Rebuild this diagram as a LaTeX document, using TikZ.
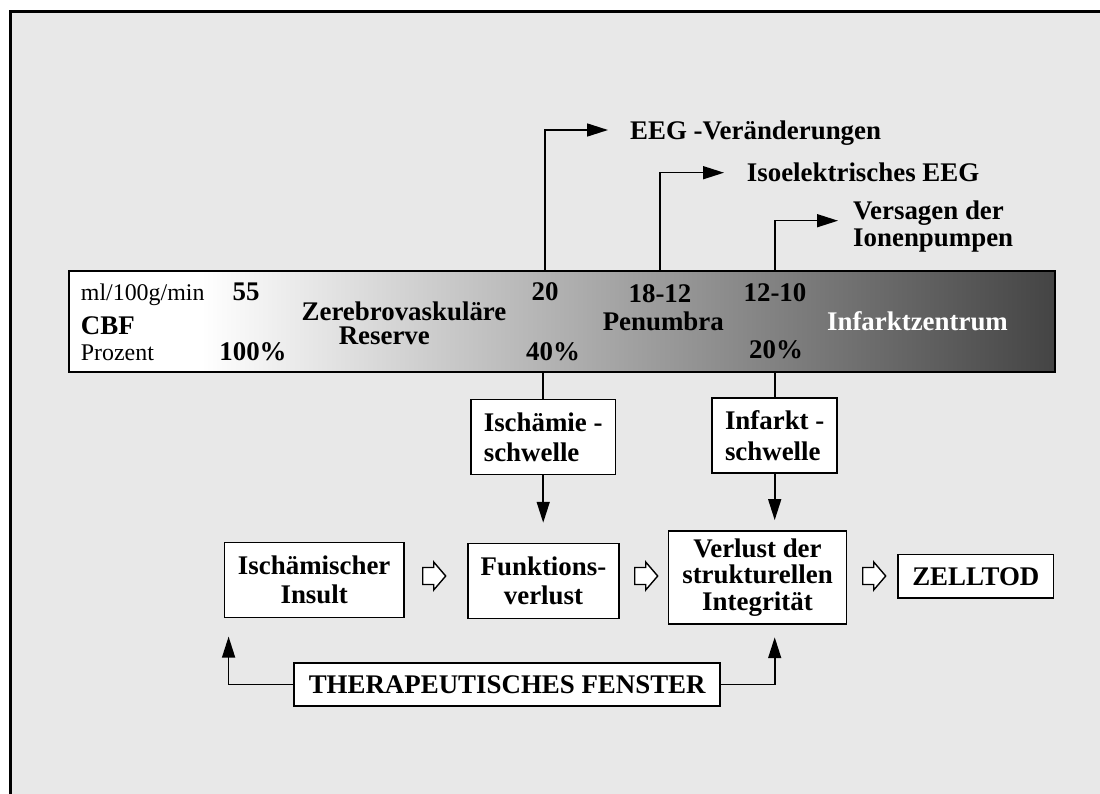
\documentclass[tikz,border=0pt]{standalone}
\usepackage{fontspec}
\setmainfont{Liberation Serif}
\usetikzlibrary{arrows.meta,calc}
\definecolor{bggray}{HTML}{E8E8E8}
\definecolor{barend}{HTML}{444444}
\pgfdeclarehorizontalshading{cbfshade}{100bp}{color(0bp)=(white); color(31.7bp)=(white); color(75bp)=(barend); color(100bp)=(barend)}
\tikzset{
    lbl/.style={inner sep=0pt, font=\fontsize{27pt}{29pt}\selectfont\bfseries},
    unitlbl/.style={inner sep=0pt, anchor=base west, font=\fontsize{24pt}{26pt}\selectfont},
    box/.style={draw, fill=white, line width=1.6pt, inner sep=0pt, align=center, font=\fontsize{27pt}{29pt}\selectfont\bfseries},
    conn/.style={line width=1.6pt},
    arr/.style={conn, -{Triangle[length=21pt,width=13pt]}},
    blockarr/.style={draw, fill=white, line width=1.4pt, line join=miter}
}
\newcommand\openarrow[1]{%
    \draw [blockarr] ($(#1)+(-11.5,-8.5)$) -- ++(11,0) -- ++(0,-5.5) -- ++(12,14) -- ++(-12,14) -- ++(0,-5.5) -- ++(-11,0) -- cycle;}
\begin{document}
\begin{tikzpicture}[x=1bp, y=-1bp]
    \useasboundingbox (0,0) rectangle (1100,794);
    \clip (0,0) rectangle (1100,794);
    \fill [bggray] (10.5,11.5) rectangle (1110,804);
    \draw [line width=3pt] (10.5,804) -- (10.5,11.5) -- (1110,11.5);

    \node [draw, line width=1.6pt, shading=cbfshade, minimum width=989.7pt, minimum height=101.3pt, inner sep=0pt] (bar) at (561.85,321.65) {};
    \node [unitlbl] (unit) at (80.7,300) {ml/100g/min};
    \node [lbl, anchor=base west] (cbf) at (80.7,334) {CBF};
    \node [unitlbl] (proz) at (80.7,360) {Prozent};
    \node [lbl, anchor=base] (n55) at (246,300) {55};
    \node [lbl, anchor=base] (p100) at (253,360) {100\%};
    \node [lbl, anchor=base] (zer) at (404,320) {Zerebrovaskuläre};
    \node [lbl, anchor=base] (res) at (384.3,344) {Reserve};
    \node [lbl, anchor=base] (n20) at (545,300) {20};
    \node [lbl, anchor=base] (p40) at (553,360) {40\%};
    \node [lbl, anchor=base] (n1812) at (660,302) {18-12};
    \node [lbl, anchor=base] (pen) at (663.3,330) {Penumbra};
    \node [lbl, anchor=base] (n1210) at (775,301) {12-10};
    \node [lbl, anchor=base] (p20) at (776,358.3) {20\%};
    \node [lbl, anchor=base, white] (inf) at (917.5,330.7) {Infarktzentrum};

    \node [lbl, anchor=base west] (eeg) at (630,139.3) {EEG -Veränderungen};
    \node [lbl, anchor=base west] (iso) at (746.7,181.7) {Isoelektrisches EEG};
    \node [lbl, anchor=base west, align=left, font=\fontsize{27pt}{27.4pt}\selectfont\bfseries] (pump) at (853,246.7) {Versagen der\\Ionenpumpen};
    \coordinate (eegtip) at (608,130);
    \coordinate (isotip) at (724,172.7);
    \coordinate (pumptip) at (838,220.7);
    \draw [arr] (bar.north -| n20) |- (eegtip);
    \draw [arr] (bar.north -| n1812) |- (isotip);
    \draw [arr] (bar.north -| n1210) |- (pumptip);

    \node [box, align=left, minimum width=145pt, minimum height=75.3pt, font=\fontsize{27pt}{30.5pt}\selectfont\bfseries] (ischwelle) at (543.2,437) {Ischämie -\\schwelle};
    \node [box, align=left, minimum width=125.3pt, minimum height=75.6pt, font=\fontsize{27pt}{30.5pt}\selectfont\bfseries] (infschwelle) at (774.7,435.5) {Infarkt -\\schwelle};
    \node [box, minimum width=179.7pt, minimum height=75.4pt] (insult) at (314.2,580) {Ischämischer\\Insult};
    \node [box, minimum width=151.6pt, minimum height=75.4pt] (funk) at (543.5,581) {Funktions-\\verlust};
    \node [box, minimum width=178.4pt, minimum height=93pt, font=\fontsize{27pt}{26.5pt}\selectfont\bfseries] (verlust) at (757.5,577.5) {Verlust der\\strukturellen\\Integrität};
    \node [box, minimum width=156.3pt, minimum height=44pt] (zelltod) at (975.8,576.3) {ZELLTOD};
    \node [box, minimum width=427.7pt, minimum height=43.3pt] (fenster) at (507.2,684.4) {THERAPEUTISCHES FENSTER};

    \coordinate (ba1) at (434.2,576);
    \coordinate (ba2) at (646.2,576);
    \coordinate (ba3) at (874.2,576);
    \openarrow{ba1}
    \openarrow{ba2}
    \openarrow{ba3}

    \draw [conn] (bar.south -| ischwelle) -- (ischwelle.north);
    \draw [conn] (bar.south -| infschwelle) -- (infschwelle.north);
    \draw [arr, shorten >=20pt] (ischwelle.south) -- (ischwelle.south |- funk.north);
    \draw [arr, shorten >=10.3pt] (infschwelle.south) -- (infschwelle.south |- verlust.north);
    \draw [arr, shorten >=18.3pt] (fenster.west) -| ($(insult.south west)+(4.7,0)$);
    \draw [arr, shorten >=12.7pt] (fenster.east) -| (verlust.south -| infschwelle);
\end{tikzpicture}
\end{document}
